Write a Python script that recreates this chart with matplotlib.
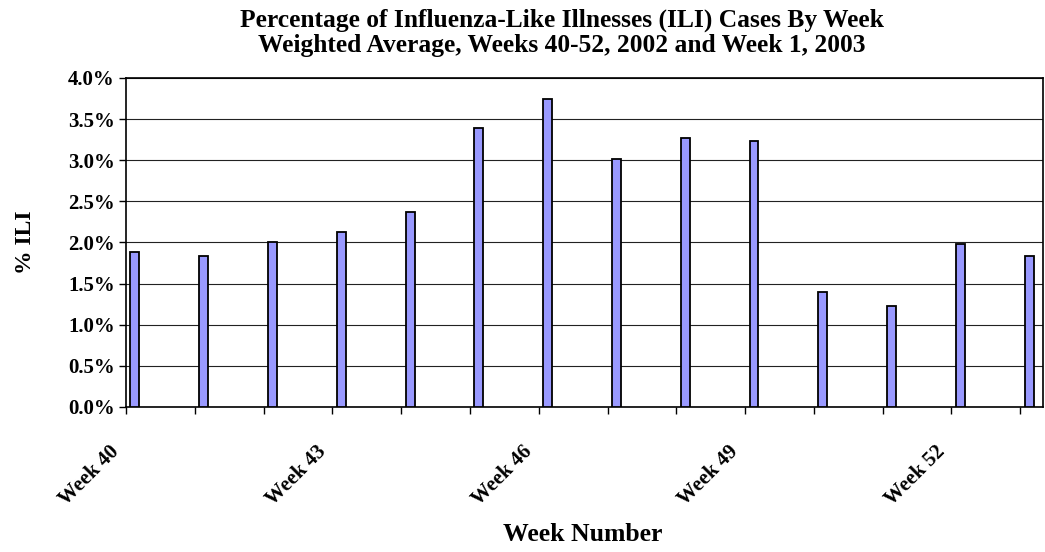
import matplotlib
matplotlib.use("Agg")
import matplotlib.pyplot as plt
import numpy as np

# weekly ILI percentages, week 40 (2002) to week 1 (2003)
weeks = ["40", "41", "42", "43", "44", "45", "46", "47", "48", "49", "50", "51", "52", "1"]
ili_pct = [1.89, 1.84, 2.01, 2.13, 2.37, 3.39, 3.75, 3.02, 3.27, 3.24, 1.40, 1.23, 1.98, 1.84]
label_idx = [0, 3, 6, 9, 12]
label_txt = ["Week 40", "Week 43", "Week 46", "Week 49", "Week 52"]

plt.rcParams['font.family'] = ['Liberation Serif', 'DejaVu Serif']
plt.rcParams['font.weight'] = 'bold'

fig = plt.figure(figsize=(10.45, 5.52), dpi=100)
ax = fig.add_axes([0.1206, 0.2627, 0.8774, 0.596])

x = np.arange(len(weeks))
off = 0.13
ax.bar(x + off, ili_pct, width=0.13, color='#9999ff', edgecolor='black', linewidth=1.3, zorder=3)

ax.set_xlim(0, 13.33)
ax.set_ylim(0, 4.0)
ax.set_yticks(np.arange(0, 4.01, 0.5))
ax.set_yticklabels(["%.1f%%" % v for v in np.arange(0, 4.01, 0.5)], fontsize=15, fontweight='bold')
ax.yaxis.grid(True, color='#222222', linewidth=0.8, zorder=0)

ax.set_xticks(np.arange(0, 14))
ax.set_xticklabels([])
ax.tick_params(axis='x', length=5, width=1, direction='out')
ax.tick_params(axis='y', length=5, width=1, direction='out', pad=3)
ax.set_xlim(0, 13.33)

# week labels every third category, slanted like the original
for i, t in zip(label_idx, label_txt):
    ax.text(i - 0.14, -0.127, t, transform=ax.get_xaxis_transform(), rotation=45,
            ha='right', va='center', rotation_mode='anchor', fontsize=15, fontweight='bold')

for s in ax.spines.values():
    s.set_color('black')
    s.set_linewidth(1.2)

ax.set_ylabel("% ILI", fontsize=17, fontweight='bold')
ax.yaxis.label.set_va('center')
ax.yaxis.set_label_coords(-0.11, 0.5)
ax.set_xlabel("Week Number", fontsize=18.5, fontweight='bold')
ax.xaxis.label.set_va('center')
ax.xaxis.set_label_coords(0.498, -0.389)
fig.text(0.538, 0.985, "Percentage of Influenza-Like Illnesses (ILI) Cases By Week\n"
         "Weighted Average, Weeks 40-52, 2002 and Week 1, 2003",
         ha='center', va='top', fontsize=18.4, fontweight='bold', linespacing=1.15)

fig.savefig("out.png", dpi=100)
